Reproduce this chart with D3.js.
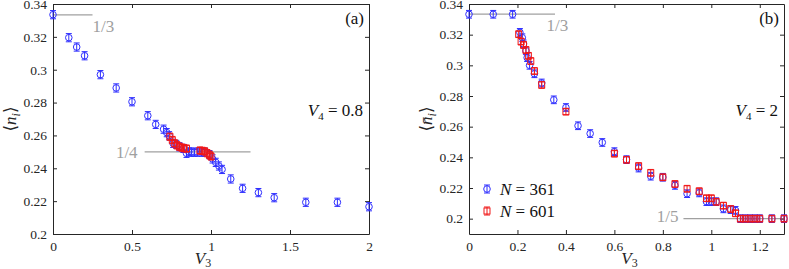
<!DOCTYPE html>
<html>
<head>
<meta charset="utf-8">
<script src="https://cdn.jsdelivr.net/npm/d3@7"></script>
<style>
body { margin: 0; background: #fff; }
svg { display: block; }
svg text { font-family: 'Liberation Serif', 'DejaVu Serif', serif !important; }
</style>
</head>
<body>
<svg width="789" height="269"></svg>
<script>
// panel (a), V4 = 0.8 : [V3, <n_i>]
var aN361 = [[0,0.3335],[0.1,0.3195],[0.15,0.3138],[0.2,0.3085],[0.3,0.297],[0.4,0.2889],[0.5,0.2805],
  [0.6,0.272],[0.65,0.2667],[0.7,0.2638],[0.72,0.2617],[0.735,0.2598],[0.76,0.2552],[0.78,0.2545],
  [0.8,0.2531],[0.825,0.2521],[0.845,0.2491],[0.86,0.25],[0.875,0.2498],[0.895,0.2498],[0.915,0.2498],
  [0.94,0.2498],[0.96,0.2498],[0.99,0.2483],[1.01,0.2457],[1.03,0.2436],[1.05,0.2414],[1.07,0.2393],
  [1.125,0.2335],[1.2,0.2278],[1.3,0.2252],[1.4,0.2221],[1.6,0.2193],[1.8,0.2193],[2.0,0.2166]];
var aN601 = [[0.74,0.2592],[0.755,0.2572],[0.77,0.2552],[0.785,0.254],[0.8,0.2531],[0.815,0.2526],
  [0.83,0.2522],[0.845,0.252],[0.93,0.2508],[0.945,0.2506],[0.96,0.2503],[0.975,0.2492],[0.99,0.2482],[1.0,0.2472]];

// panel (b), V4 = 2
var bN361 = [[0,0.3333],[0.1,0.3333],[0.18,0.3333],[0.21,0.3215],[0.22,0.318],[0.225,0.314],[0.235,0.3095],
  [0.24,0.305],[0.25,0.3],[0.27,0.2945],[0.3,0.2885],[0.35,0.2775],[0.4,0.2725],[0.45,0.2606],[0.5,0.2555],
  [0.55,0.2497],[0.6,0.2437],[0.65,0.2385],[0.7,0.233],[0.75,0.2277],[0.8,0.227],[0.85,0.2217],[0.9,0.2163],
  [0.95,0.2168],[0.98,0.2111],[1.0,0.2111],[1.02,0.2111],[1.05,0.2064],[1.08,0.2059],[1.1,0.2054],
  [1.12,0.2],[1.14,0.2],[1.16,0.2],[1.18,0.2],[1.2,0.2],[1.25,0.2],[1.3,0.2]];
var bN601 = [[0.205,0.3203],[0.215,0.3155],[0.225,0.3133],[0.235,0.31],[0.245,0.3062],[0.255,0.3028],
  [0.27,0.2963],[0.3,0.2872],[0.4,0.2698],[0.6,0.2424],[0.65,0.2384],[0.7,0.2343],[0.75,0.2299],[0.8,0.227],
  [0.85,0.2226],[0.9,0.2195],[0.95,0.2179],[0.98,0.2133],[1.0,0.2133],[1.02,0.211],[1.05,0.2085],[1.08,0.2063],
  [1.1,0.2035],[1.12,0.2],[1.14,0.2],[1.16,0.2],[1.18,0.2],[1.2,0.2],[1.25,0.2],[1.3,0.2]];

var errN361 = 0.0025, errN601 = 0.0022;

var aXTicks = [0, 0.5, 1, 1.5, 2];
var bXTicks = [0, 0.2, 0.4, 0.6, 0.8, 1, 1.2];
var yTicks = [0.2, 0.22, 0.24, 0.26, 0.28, 0.3, 0.32, 0.34];
var legendLabels = ["361", "601"];

var blue = "#2f2fff", red = "#f01818", axisCol = "#262626", refCol = "#a0a0a0";
var svg = d3.select("svg");
var fmt = function(d) { return String(+d.toFixed(2)); };

function drawPanel(p) {
  var x = d3.scaleLinear().domain(p.xDomain).range([p.left, p.right]);
  var y = d3.scaleLinear().domain(p.yDomain).range([234, 4]);
  var g = svg.append("g");

  // reference lines
  p.refs.forEach(function(r) {
    g.append("line")
      .attr("x1", x(r.from)).attr("x2", x(r.to))
      .attr("y1", y(r.val)).attr("y2", y(r.val))
      .attr("stroke", refCol).attr("stroke-width", 1.3);
    g.append("text")
      .attr("x", x(r.tx) + r.dx).attr("y", y(r.val) + r.dy)
      .attr("text-anchor", r.anchor)
      .attr("font-size", 17).attr("fill", refCol)
      .text(r.label);
  });

  function axisStyle(sel, labels) {
    sel.attr("font-family", null);
    sel.selectAll("path").attr("stroke", axisCol);
    sel.selectAll("line").attr("stroke", axisCol);
    sel.selectAll("text").attr("fill", axisCol).style("font-size", "13.5px");
    if (!labels) sel.selectAll("text").remove();
  }

  g.append("g").attr("transform", "translate(0,234)")
    .call(d3.axisBottom(x).tickValues(p.xTicks).tickFormat(fmt).tickSizeInner(-4).tickSizeOuter(0).tickPadding(7))
    .call(axisStyle, true);
  g.append("g").attr("transform", "translate(0,4)")
    .call(d3.axisTop(x).tickValues(p.xTicks).tickSizeInner(-4).tickSizeOuter(0))
    .call(axisStyle, false);
  g.append("g").attr("transform", "translate(" + p.left + ",0)")
    .call(d3.axisLeft(y).tickValues(yTicks).tickFormat(fmt).tickSizeInner(-4).tickSizeOuter(0).tickPadding(6))
    .call(axisStyle, true);
  g.append("g").attr("transform", "translate(" + p.right + ",0)")
    .call(d3.axisRight(y).tickValues(yTicks).tickSizeInner(-4).tickSizeOuter(0))
    .call(axisStyle, false);
  g.selectAll(".domain").attr("fill", "none");

  // data
  drawSeries(g, p.n361, errN361, blue, "circle", x, y);
  drawSeries(g, p.n601, errN601, red, "square", x, y);

  // labels
  var xl = g.append("text").attr("x", (p.left + p.right) / 2 + p.xlDx).attr("y", 264)
    .attr("text-anchor", "middle").attr("font-size", 17).attr("fill", axisCol);
  xl.append("tspan").attr("font-style", "italic").text("V");
  xl.append("tspan").attr("font-size", 12).attr("dy", 3).text("3");

  var cy = (234 + 4) / 2;
  var yl = g.append("text")
    .attr("transform", "translate(" + (p.left - 37) + "," + cy + ") rotate(-90)")
    .attr("text-anchor", "middle").attr("font-size", 17).attr("fill", axisCol);
  yl.append("tspan").text("\u27E8");
  yl.append("tspan").attr("font-style", "italic").text(p.bar ? "n\u0304" : "n");
  yl.append("tspan").attr("font-style", "italic").attr("font-size", 12).attr("dy", 4).text("i");
  yl.append("tspan").attr("dy", -4).text("\u27E9");

  g.append("text").attr("x", p.right - 5).attr("y", 24).attr("text-anchor", "end")
    .attr("font-size", 17).attr("fill", "#111").text(p.tag);

  var v4 = g.append("text").attr("x", p.right - 6).attr("y", 116).attr("text-anchor", "end")
    .attr("font-size", 17).attr("fill", "#111");
  v4.append("tspan").attr("font-style", "italic").text("V");
  v4.append("tspan").attr("font-size", 11).attr("dy", 4).text("4");
  v4.append("tspan").attr("dy", -4).text(" = " + p.v4);

  if (p.legend) {
    var lg = g.append("g").attr("transform", "translate(" + (p.left + 18) + ",189)");
    [[blue, "circle", errN361], [red, "square", errN601]].forEach(function(s, i) {
      var row = lg.append("g").attr("transform", "translate(0," + i * 22 + ")");
      marker(row, 0, 0, 4, s[0], s[1]);
      var t = row.append("text").attr("x", 13).attr("y", 6).attr("font-size", 17).attr("fill", "#111");
      t.append("tspan").attr("font-style", "italic").text("N");
      t.append("tspan").text(" = " + legendLabels[i]);
    });
  }
}

function marker(sel, cx, cy, h, col, shape) {
  sel.append("line").attr("x1", cx).attr("x2", cx).attr("y1", cy - h).attr("y2", cy + h)
    .attr("stroke", col).attr("stroke-width", 1);
  [cy - h, cy + h].forEach(function(yy) {
    sel.append("line").attr("x1", cx - 3).attr("x2", cx + 3).attr("y1", yy).attr("y2", yy)
      .attr("stroke", col).attr("stroke-width", 1);
  });
  if (shape === "circle") {
    sel.append("circle").attr("cx", cx).attr("cy", cy).attr("r", 3.3)
      .attr("fill", "none").attr("stroke", col).attr("stroke-width", 1);
  } else {
    sel.append("rect").attr("x", cx - 3).attr("y", cy - 3).attr("width", 6).attr("height", 6)
      .attr("fill", "none").attr("stroke", col).attr("stroke-width", 1);
  }
}

function drawSeries(g, data, err, col, shape, x, y) {
  var s = g.append("g");
  data.forEach(function(d) {
    var cx = x(d[0]), cy = y(d[1]);
    var h = (y(d[1] - err) - y(d[1] + err)) / 2;
    marker(s, cx, cy, h, col, shape);
  });
}

drawPanel({
  left: 53, right: 369, xDomain: [0, 2], yDomain: [0.2, 0.34], xTicks: aXTicks, xlDx: -8,
  n361: aN361, n601: aN601, tag: "(a)", v4: "0.8", bar: false, legend: false,
  refs: [
    { val: 1/3, from: 0, to: 0.25, tx: 0.25, dx: 0, dy: 17, anchor: "start", label: "1/3" },
    { val: 1/4, from: 0.58, to: 1.25, tx: 0.58, dx: -7, dy: 6, anchor: "end", label: "1/4" }
  ]
});

drawPanel({
  left: 469, right: 784, xDomain: [0, 1.3], yDomain: [0.19, 0.34], xTicks: bXTicks, xlDx: 3,
  n361: bN361, n601: bN601, tag: "(b)", v4: "2", bar: true, legend: true,
  refs: [
    { val: 1/3, from: 0, to: 0.355, tx: 0.32, dx: 0, dy: 17, anchor: "start", label: "1/3" },
    { val: 1/5, from: 0.885, to: 1.3, tx: 0.885, dx: -5, dy: 3, anchor: "end", label: "1/5" }
  ]
});
</script>
</body>
</html>
